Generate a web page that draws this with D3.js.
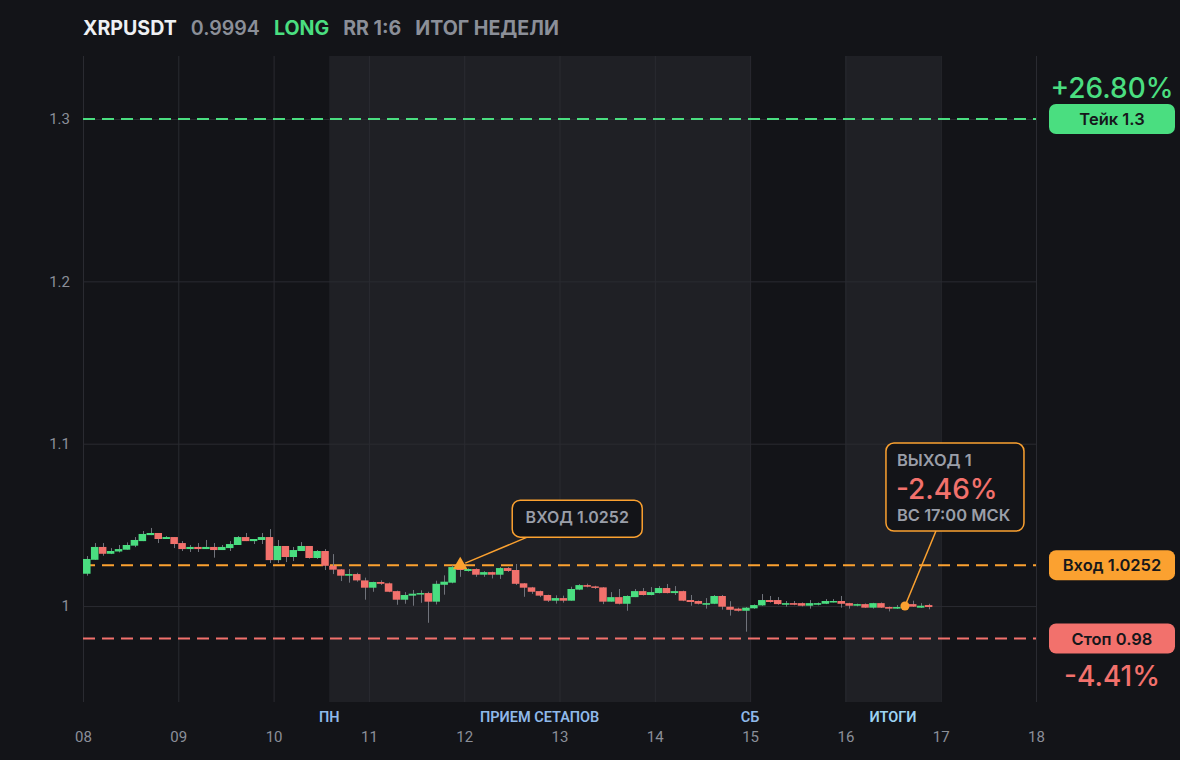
<!DOCTYPE html>
<html>
<head>
<meta charset="utf-8">
<script src="https://cdn.jsdelivr.net/npm/d3@7"></script>
<style>
  html, body { margin: 0; padding: 0; background: #131418; }
  svg { display: block; }
</style>
</head>
<body>
<div id="chart"></div>
<script>
// 2h candles, starting 08 00:00
const startDay = 8;
const candleHours = 2;

const opens = [
  1.0199, 1.0285, 1.0364, 1.0322, 1.0336, 1.0347, 1.0372, 1.0400, 1.0437, 1.0450, 1.0413, 1.0425,
  1.0388, 1.0351, 1.0364, 1.0351, 1.0364, 1.0345, 1.0357, 1.0376, 1.0425, 1.0400, 1.0407, 1.0425,
  1.0283, 1.0370, 1.0302, 1.0339, 1.0370, 1.0296, 1.0339, 1.0248, 1.0226, 1.0187, 1.0197, 1.0158,
  1.0113, 1.0148, 1.0140, 1.0092, 1.0039, 1.0064, 1.0072, 1.0080, 1.0027, 1.0131, 1.0144, 1.0240,
  1.0216, 1.0228, 1.0193, 1.0209, 1.0193, 1.0234, 1.0222, 1.0140, 1.0115, 1.0092, 1.0068, 1.0033,
  1.0049, 1.0033, 1.0101, 1.0129, 1.0121, 1.0115, 1.0027, 1.0055, 1.0014, 1.0055, 1.0092, 1.0068,
  1.0080, 1.0111, 1.0080, 1.0092, 1.0037, 1.0031, 1.0008, 1.0014, 1.0062, 0.9996, 0.9984, 0.9971,
  0.9986, 1.0004, 1.0037, 1.0037, 1.0008, 1.0018, 1.0018, 1.0002, 1.0008, 1.0014, 1.0025, 1.0031,
  1.0018, 1.0002, 1.0012, 0.9990, 1.0018, 0.9994, 0.9984, 0.9992, 1.0012, 0.9990, 1.0006
];
const highs = [
  1.0308, 1.0388, 1.0388, 1.0357, 1.0376, 1.0392, 1.0425, 1.0462, 1.0481, 1.0450, 1.0431, 1.0425,
  1.0400, 1.0376, 1.0388, 1.0407, 1.0388, 1.0376, 1.0400, 1.0431, 1.0450, 1.0413, 1.0450, 1.0474,
  1.0407, 1.0370, 1.0364, 1.0394, 1.0370, 1.0345, 1.0351, 1.0320, 1.0228, 1.0228, 1.0205, 1.0175,
  1.0150, 1.0158, 1.0145, 1.0095, 1.0086, 1.0099, 1.0097, 1.0088, 1.0156, 1.0189, 1.0250, 1.0283,
  1.0232, 1.0232, 1.0215, 1.0212, 1.0240, 1.0240, 1.0259, 1.0142, 1.0118, 1.0095, 1.0070, 1.0066,
  1.0064, 1.0119, 1.0135, 1.0138, 1.0125, 1.0117, 1.0086, 1.0105, 1.0066, 1.0105, 1.0111, 1.0117,
  1.0123, 1.0136, 1.0123, 1.0095, 1.0068, 1.0034, 1.0049, 1.0068, 1.0068, 1.0030, 0.9990, 0.9994,
  1.0010, 1.0074, 1.0062, 1.0055, 1.0031, 1.0031, 1.0022, 1.0037, 1.0022, 1.0043, 1.0043, 1.0062,
  1.0020, 1.0015, 1.0016, 1.0020, 1.0022, 0.9997, 1.0006, 1.0010, 1.0033, 1.0018, 1.0014
];
const lows = [
  1.0187, 1.0285, 1.0310, 1.0320, 1.0330, 1.0347, 1.0363, 1.0400, 1.0437, 1.0388, 1.0413, 1.0357,
  1.0339, 1.0333, 1.0333, 1.0351, 1.0298, 1.0345, 1.0339, 1.0376, 1.0400, 1.0382, 1.0382, 1.0265,
  1.0265, 1.0271, 1.0277, 1.0339, 1.0292, 1.0290, 1.0222, 1.0197, 1.0154, 1.0144, 1.0150, 1.0039,
  1.0088, 1.0130, 1.0085, 1.0008, 1.0014, 1.0002, 1.0020, 0.9897, 1.0010, 1.0070, 1.0140, 1.0180,
  1.0212, 1.0180, 1.0180, 1.0170, 1.0167, 1.0210, 1.0130, 1.0057, 1.0075, 1.0055, 1.0025, 1.0015,
  1.0021, 1.0033, 1.0098, 1.0115, 1.0105, 1.0012, 1.0027, 1.0010, 0.9971, 1.0055, 1.0065, 1.0066,
  1.0078, 1.0078, 1.0068, 1.0030, 1.0002, 1.0010, 0.9984, 1.0012, 0.9978, 0.9941, 0.9966, 0.9842,
  0.9983, 1.0002, 1.0021, 1.0008, 0.9996, 1.0005, 0.9998, 0.9984, 1.0004, 1.0012, 1.0022, 0.9990,
  0.9984, 0.9998, 0.9988, 0.9984, 0.9988, 0.9967, 0.9982, 0.9988, 0.9994, 0.9988, 0.9980
];
const closes = [
  1.0290, 1.0364, 1.0322, 1.0339, 1.0351, 1.0376, 1.0407, 1.0444, 1.0450, 1.0413, 1.0425, 1.0382,
  1.0351, 1.0364, 1.0351, 1.0364, 1.0345, 1.0364, 1.0382, 1.0425, 1.0400, 1.0413, 1.0425, 1.0283,
  1.0370, 1.0302, 1.0345, 1.0370, 1.0296, 1.0339, 1.0248, 1.0224, 1.0187, 1.0197, 1.0158, 1.0113,
  1.0148, 1.0137, 1.0088, 1.0039, 1.0068, 1.0076, 1.0080, 1.0027, 1.0137, 1.0150, 1.0240, 1.0222,
  1.0228, 1.0193, 1.0209, 1.0193, 1.0234, 1.0216, 1.0137, 1.0113, 1.0088, 1.0064, 1.0033, 1.0049,
  1.0033, 1.0105, 1.0129, 1.0119, 1.0113, 1.0027, 1.0055, 1.0014, 1.0062, 1.0092, 1.0068, 1.0086,
  1.0111, 1.0080, 1.0092, 1.0033, 1.0025, 1.0014, 1.0018, 1.0062, 0.9996, 0.9977, 0.9971, 0.9990,
  1.0006, 1.0037, 1.0025, 1.0012, 1.0018, 1.0008, 1.0002, 1.0018, 1.0018, 1.0031, 1.0031, 1.0014,
  1.0002, 1.0012, 0.9990, 1.0018, 0.9990, 0.9984, 0.9994, 1.0008, 0.9996, 1.0002, 0.9994
];

const dayTicks = [8, 9, 10, 11, 12, 13, 14, 15, 16, 17, 18];
const priceTicks = [1.0, 1.1, 1.2, 1.3];

// session zones, in days
const zones = [[10 + 14 / 24, 15], [16, 17]];
const zoneLabels = ["ПН", "ПРИЕМ СЕТАПОВ", "СБ", "ИТОГИ"];

const ticker = "XRPUSDT";
const side = "LONG";
const rr = "RR 1:6";
const title = "ИТОГ НЕДЕЛИ";

const takePrice = 1.3;
const entryPrice = 1.0252;
const stopPrice = 0.98;
const entryDay = 11 + 23 / 24;
const exitDay = 16 + 15 / 24;
const exitPrice = 1.0;
const exitTime = "ВС 17:00 МСК";

const W = 1180, H = 760;
const plot = {left: 83, right: 1036, top: 56, bottom: 702};

const C = {
  bg: "#131418", zone: "#1f2025", grid: "#2a2b31", tick: "#8b8f98",
  green: "#4ade80", red: "#f2716c", orange: "#fba130", wick: "#70737b",
  band: "#8fb9ea", band2: "#9dd3f2", soft: "#9a9ea8", white: "#eef0f3"
};

const candles = opens.map((o, i) => ({
  t: startDay + i * candleHours / 24,
  o, h: highs[i], l: lows[i], c: closes[i]
}));

const x = d3.scaleLinear().domain([8, 18]).range([plot.left, plot.right]);
const y = d3.scaleLinear().domain([0.9409, 1.3388]).range([plot.bottom, plot.top]);

const svg = d3.select("#chart").append("svg")
  .attr("width", W).attr("height", H)
  .style("font-family", "Inter, 'Noto Sans', sans-serif");

svg.append("rect").attr("width", W).attr("height", H).attr("fill", C.bg);

// zones
svg.append("g").selectAll("rect")
  .data(zones)
  .enter().append("rect")
    .attr("x", d => x(d[0]))
    .attr("y", plot.top)
    .attr("width", d => x(d[1]) - x(d[0]))
    .attr("height", plot.bottom - plot.top)
    .attr("fill", C.zone);

// axes with grid
const xAxis = svg.append("g")
  .attr("transform", `translate(0,${plot.bottom})`)
  .call(d3.axisBottom(x).tickValues(dayTicks).tickFormat(d3.format("02d"))
    .tickSize(-(plot.bottom - plot.top)).tickPadding(29));
xAxis.select(".domain").remove();
xAxis.selectAll("line").attr("stroke", C.grid);
xAxis.selectAll("text").attr("fill", C.tick).attr("font-size", 15)
  .attr("font-family", "Roboto, sans-serif");

const yAxis = svg.append("g")
  .attr("transform", `translate(${plot.left},0)`)
  .call(d3.axisLeft(y).tickValues(priceTicks).tickFormat(d => d3.format("~g")(d))
    .tickSize(-(plot.right - plot.left)).tickPadding(13));
yAxis.select(".domain").remove();
yAxis.selectAll("line").attr("stroke", C.grid);
yAxis.selectAll("text").attr("fill", C.tick).attr("font-size", 15)
  .attr("font-family", "Roboto, sans-serif");

// zone labels
const labelDays = [zones[0][0], (zones[0][0] + zones[0][1]) / 2, zones[0][1], (zones[1][0] + zones[1][1]) / 2];
svg.append("g").selectAll("text")
  .data(zoneLabels)
  .enter().append("text")
    .attr("x", (d, i) => x(labelDays[i]))
    .attr("y", 722)
    .attr("text-anchor", "middle")
    .attr("font-family", "Roboto, sans-serif")
    .attr("font-size", 14.5)
    .attr("font-weight", 600)
    .attr("fill", (d, i) => i === 3 ? C.band2 : C.band)
    .text(d => d);

// level lines
const levels = [
  {p: takePrice, color: C.green},
  {p: entryPrice, color: C.orange},
  {p: stopPrice, color: C.red}
];
svg.append("g").selectAll("line")
  .data(levels)
  .enter().append("line")
    .attr("x1", plot.left).attr("x2", plot.right)
    .attr("y1", d => y(d.p)).attr("y2", d => y(d.p))
    .attr("stroke", d => d.color)
    .attr("stroke-width", 2)
    .attr("stroke-dasharray", "12 7");

// candles
const cw = x(startDay + candleHours / 24) - x(startDay);
const cg = svg.append("g");
cg.selectAll("line")
  .data(candles)
  .enter().append("line")
    .attr("x1", d => Math.round(x(d.t) + cw / 2) + 0.5)
    .attr("x2", d => Math.round(x(d.t) + cw / 2) + 0.5)
    .attr("y1", d => y(d.h)).attr("y2", d => y(d.l))
    .attr("stroke", C.wick).attr("stroke-width", 1);
cg.selectAll("rect")
  .data(candles)
  .enter().append("rect")
    .attr("x", d => x(d.t))
    .attr("width", cw - 0.4)
    .attr("y", d => y(Math.max(d.o, d.c)))
    .attr("height", d => Math.max(1.5, Math.abs(y(d.o) - y(d.c))))
    .attr("fill", d => d.c >= d.o ? C.green : C.red);

// entry marker + callout
const ex = x(entryDay), ey = y(entryPrice);
const eBox = {x: ex + 52, y: ey - 65, w: 130, h: 37};
svg.append("line")
  .attr("x1", ex + 5).attr("y1", ey - 2)
  .attr("x2", eBox.x + 15).attr("y2", eBox.y + eBox.h)
  .attr("stroke", C.orange).attr("stroke-width", 1.5);
svg.append("path")
  .attr("d", d3.symbol(d3.symbolTriangle, 92)())
  .attr("transform", `translate(${ex},${ey})`)
  .attr("fill", C.orange);
svg.append("rect")
  .attr("x", eBox.x).attr("y", eBox.y).attr("width", eBox.w).attr("height", eBox.h)
  .attr("rx", 8).attr("fill", C.bg).attr("stroke", C.orange).attr("stroke-width", 1.5);
svg.append("text")
  .attr("x", eBox.x + eBox.w / 2).attr("y", eBox.y + 23)
  .attr("text-anchor", "middle").attr("font-size", 16).attr("font-weight", 600)
  .attr("fill", C.soft).text(`ВХОД ${entryPrice}`);

// exit marker + callout
const xx = x(exitDay), xy = y(exitPrice);
const xBox = {x: xx - 19, y: xy - 163, w: 138, h: 88};
svg.append("line")
  .attr("x1", xx).attr("y1", xy)
  .attr("x2", xx + 31).attr("y2", xBox.y + xBox.h)
  .attr("stroke", C.orange).attr("stroke-width", 1.5);
svg.append("circle")
  .attr("cx", xx).attr("cy", xy).attr("r", 4.5).attr("fill", C.orange);
svg.append("rect")
  .attr("x", xBox.x).attr("y", xBox.y).attr("width", xBox.w).attr("height", xBox.h)
  .attr("rx", 8).attr("fill", C.bg).attr("stroke", C.orange).attr("stroke-width", 1.5);
const pct = p => (p / entryPrice - 1) * 100;
const fmtPct = v => (v > 0 ? "+" : "") + v.toFixed(2) + "%";
svg.append("text").attr("x", xBox.x + 11).attr("y", xBox.y + 23)
  .attr("font-size", 16.5).attr("font-weight", 600).attr("fill", C.soft).text("ВЫХОД 1");
svg.append("text").attr("x", xBox.x + 10).attr("y", xBox.y + 56)
  .attr("font-size", 28).attr("font-weight", 500).attr("fill", C.red).text(fmtPct(pct(exitPrice)));
svg.append("text").attr("x", xBox.x + 11).attr("y", xBox.y + 78)
  .attr("font-size", 16.5).attr("font-weight", 600).attr("fill", C.soft).text(exitTime);

// right side price tags
const tags = [
  {p: takePrice, color: C.green, label: `Тейк ${takePrice}`},
  {p: entryPrice, color: C.orange, label: `Вход ${entryPrice}`},
  {p: stopPrice, color: C.red, label: `Стоп ${stopPrice}`}
];
const tagX = 1049, tagW = 126, tagH = 30;
const tg = svg.append("g");
tg.selectAll("rect")
  .data(tags)
  .enter().append("rect")
    .attr("x", tagX).attr("y", d => y(d.p) - tagH / 2)
    .attr("width", tagW).attr("height", tagH).attr("rx", 7)
    .attr("fill", d => d.color);
tg.selectAll("text")
  .data(tags)
  .enter().append("text")
    .attr("x", tagX + tagW / 2).attr("y", d => y(d.p) + 6)
    .attr("text-anchor", "middle").attr("font-size", 16.5).attr("font-weight", 600)
    .attr("fill", "#16171b").text(d => d.label);

svg.append("text")
  .attr("x", tagX + tagW / 2).attr("y", y(takePrice) - tagH / 2 - 6)
  .attr("text-anchor", "middle").attr("font-size", 28).attr("font-weight", 500)
  .attr("fill", C.green).text(fmtPct(pct(takePrice)));
svg.append("text")
  .attr("x", tagX + tagW / 2).attr("y", y(stopPrice) + tagH / 2 + 32)
  .attr("text-anchor", "middle").attr("font-size", 28).attr("font-weight", 500)
  .attr("fill", C.red).text(fmtPct(pct(stopPrice)));

// header
const header = [
  {t: ticker, c: C.white, w: 700},
  {t: d3.format(".4f")(closes[closes.length - 1]), c: C.tick, w: 600},
  {t: side, c: C.green, w: 700},
  {t: rr, c: C.tick, w: 700},
  {t: title, c: C.tick, w: 700}
];
let hx = 83;
header.forEach(h => {
  const t = svg.append("text")
    .attr("x", hx).attr("y", 35)
    .attr("font-size", 19.6).attr("font-weight", h.w)
    .attr("fill", h.c).text(h.t);
  hx += t.node().getComputedTextLength() + 14;
});
</script>
</body>
</html>
